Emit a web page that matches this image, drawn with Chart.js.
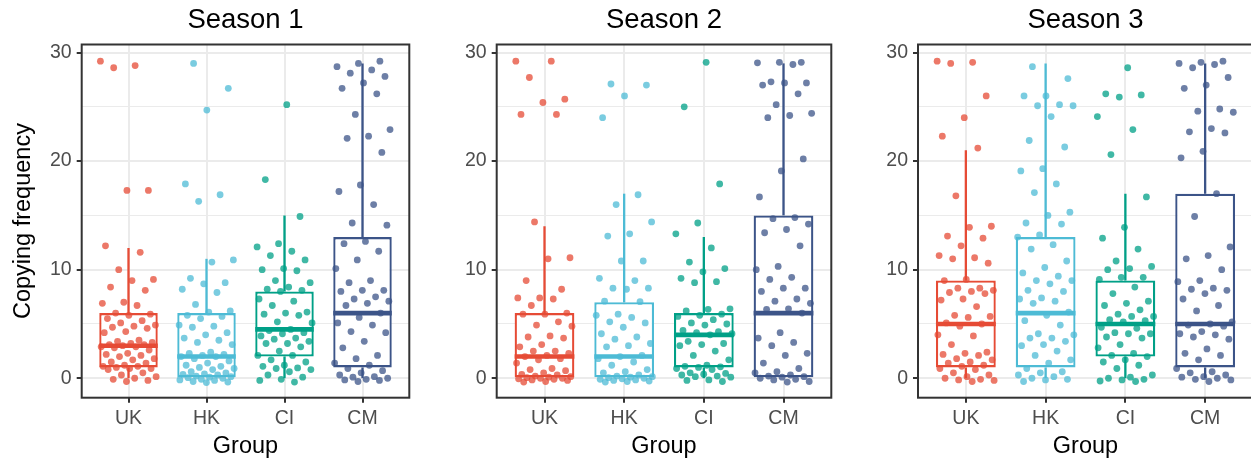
<!DOCTYPE html>
<html>
<head>
<meta charset="utf-8">
<script src="https://cdn.jsdelivr.net/npm/chart.js@4.4.1/dist/chart.umd.min.js"></script>
<style>
  body { margin: 0; background: #fff; overflow: hidden; width: 1251px; height: 461px; position: relative; }
  canvas { position: absolute; top: 0; }
</style>
</head>
<body>
<canvas id="s1"></canvas>
<canvas id="s2"></canvas>
<canvas id="s3"></canvas>
<script>
const groups = ["UK", "HK", "CI", "CM"];
const seasons = ["Season 1", "Season 2", "Season 3"];
const colors = ["#E64B35", "#4DBBD5", "#00A087", "#3C5488"];
const yTicks = [0, 5, 10, 15, 20, 25, 30];

// box stats per group: [lower whisker, q1, median, q3, upper whisker]
const box1 = [[0, 1, 3, 6, 12], [0, 0, 2, 6, 11], [0, 2, 4.5, 8, 15], [0, 1, 6, 13, 29]];
const box2 = [[0, 0, 2, 6, 14], [0, 0, 2, 7, 17], [0, 1, 4, 6, 13], [0, 0, 6, 15, 29]];
const box3 = [[0, 1, 5, 9, 21], [0, 1, 6, 13, 29], [0, 2, 5, 9, 17], [0, 1, 5, 17, 29]];

const s1UK = [29.2, 28.8, 28.6, 17.3, 17.3, 12.2, 11.6, 10.0, 9.1, 9.0, 8.4, 8.1, 7.0, 6.9, 6.7, 6.0, 5.9, 5.8, 5.5, 5.3, 5.1, 4.9, 4.8, 4.7, 4.6, 4.3, 4.2, 3.5, 3.4, 3.3, 3.2, 3.1, 3.1, 3.0, 2.9, 2.9, 2.8, 2.6, 2.3, 2.2, 2.1, 2.0, 1.8, 1.7, 1.5, 1.4, 1.2, 1.1, 1.1, 1.0, 0.9, 0.9, 0.8, 0.5, 0.3, 0.15, 0.0, -0.1, -0.2, -0.3];
const s1HK = [29.0, 26.7, 24.7, 17.9, 16.9, 16.3, 10.9, 10.7, 9.2, 8.8, 8.7, 8.2, 7.9, 6.8, 6.2, 6.1, 5.8, 5.7, 5.5, 4.9, 4.8, 4.7, 4.2, 4.0, 3.7, 3.5, 3.3, 3.1, 2.4, 2.3, 2.2, 2.1, 2.0, 2.0, 1.8, 1.6, 1.4, 1.2, 1.1, 1.0, 0.9, 0.8, 0.6, 0.5, 0.4, 0.35, 0.3, 0.2, 0.15, 0.1, 0.05, 0.0, -0.1, -0.15, -0.2, -0.3, -0.35, -0.4];
const s1CI = [25.2, 18.3, 14.9, 12.4, 12.1, 11.7, 11.3, 10.9, 10.1, 10.0, 9.9, 9.0, 8.8, 8.4, 8.2, 8.1, 8.0, 7.3, 7.1, 6.7, 6.1, 6.0, 5.9, 5.8, 5.2, 5.1, 4.5, 4.4, 4.2, 4.1, 3.9, 3.7, 3.6, 3.4, 3.2, 3.2, 2.9, 2.5, 2.1, 2.1, 1.7, 1.5, 1.2, 1.1, 0.95, 0.9, 0.8, 0.6, 0.3, 0.1, -0.1, -0.2, -0.35];
const s1CM = [29.2, 29.0, 28.7, 28.4, 28.1, 27.8, 27.2, 26.7, 26.2, 24.3, 22.9, 22.3, 22.1, 20.8, 17.8, 17.2, 16.0, 14.3, 14.1, 12.6, 12.4, 11.7, 10.9, 10.1, 9.0, 8.8, 8.1, 8.1, 8.0, 7.5, 7.3, 7.1, 6.9, 6.7, 6.0, 5.6, 5.1, 4.9, 4.3, 4.2, 3.4, 2.8, 2.1, 1.8, 1.4, 1.2, 0.9, 0.7, 0.5, 0.3, 0.15, 0.1, 0.0, -0.1, -0.15, -0.2, -0.3];

const s2UK = [29.2, 29.2, 27.7, 25.7, 25.4, 24.3, 24.3, 14.4, 11.1, 11.0, 9.0, 8.2, 7.4, 7.4, 7.3, 6.7, 6.0, 5.9, 5.9, 5.2, 4.9, 4.8, 3.9, 3.8, 3.7, 3.1, 2.9, 2.5, 2.5, 2.3, 2.1, 2.0, 1.8, 1.7, 1.4, 0.9, 0.8, 0.7, 0.5, 0.35, 0.3, 0.2, 0.15, 0.1, 0.05, 0.0, 0.0, -0.05, -0.1, -0.15, -0.2, -0.3, -0.35];
const s2HK = [27.1, 27.0, 26.0, 24.0, 16.9, 16.0, 14.4, 13.3, 13.1, 10.8, 10.8, 9.2, 9.0, 8.3, 8.3, 8.2, 7.1, 7.05, 5.9, 5.8, 5.6, 5.2, 5.1, 4.7, 4.1, 3.8, 3.6, 3.2, 3.0, 2.9, 2.1, 2.0, 1.8, 1.5, 1.2, 0.8, 0.6, 0.5, 0.3, 0.2, 0.15, 0.1, 0.05, 0.0, -0.05, -0.1, -0.15, -0.2, -0.25, -0.3, -0.35];
const s2CI = [29.1, 25.0, 17.9, 14.3, 13.3, 12.0, 10.7, 10.1, 9.8, 9.2, 8.9, 8.8, 6.4, 6.35, 6.2, 5.9, 5.8, 5.7, 5.4, 5.1, 5.0, 4.9, 4.4, 4.3, 4.2, 4.1, 4.0, 3.4, 3.2, 3.1, 3.0, 2.5, 2.1, 1.7, 1.2, 1.1, 1.05, 1.0, 0.9, 0.8, 0.5, 0.45, 0.37, 0.3, 0.2, 0.15, 0.1, -0.15, -0.2, -0.3];
const s2CM = [29.1, 29.1, 29.05, 28.9, 27.3, 27.2, 27.2, 27.0, 26.2, 25.2, 24.4, 24.2, 24.0, 20.2, 19.1, 16.7, 14.8, 14.7, 14.2, 13.7, 13.4, 12.2, 10.3, 10.0, 9.3, 9.1, 8.3, 8.3, 8.0, 7.3, 7.1, 6.9, 6.4, 6.35, 6.0, 4.2, 3.7, 3.3, 3.0, 2.3, 2.1, 1.4, 0.9, 0.6, 0.5, 0.3, 0.2, 0.15, 0.1, 0.0, -0.1, -0.15, -0.3, -0.35];

const s3UK = [29.2, 29.1, 29.0, 26.0, 24.0, 22.3, 21.2, 16.8, 14.0, 13.9, 13.1, 12.9, 12.2, 11.3, 11.1, 11.0, 10.6, 9.1, 9.0, 8.3, 8.3, 8.1, 8.0, 7.9, 7.8, 7.3, 7.2, 6.6, 5.8, 5.7, 5.6, 5.1, 5.0, 4.8, 4.0, 3.9, 3.1, 2.4, 2.3, 2.2, 2.1, 1.8, 1.7, 1.5, 1.4, 1.2, 1.1, 0.9, 0.8, 0.5, 0.3, 0.15, 0.0, -0.1, -0.15, -0.2, -0.3];
const s3HK = [28.7, 27.6, 26.0, 26.0, 25.2, 25.1, 25.1, 24.1, 21.9, 21.3, 19.3, 19.1, 17.9, 17.1, 15.3, 15.0, 14.3, 14.2, 13.2, 13.0, 12.3, 11.9, 10.8, 10.2, 9.7, 9.4, 9.0, 9.0, 8.7, 8.1, 8.0, 7.4, 7.3, 7.1, 6.9, 6.1, 5.8, 5.3, 4.9, 4.1, 4.0, 3.7, 3.7, 3.4, 3.1, 3.0, 2.5, 2.1, 1.7, 1.4, 0.9, 0.6, 0.5, 0.3, 0.15, 0.0, -0.1, -0.15, -0.3];
const s3CI = [28.6, 26.2, 26.1, 25.9, 24.1, 22.9, 20.6, 16.7, 13.9, 12.9, 11.9, 10.8, 10.3, 10.1, 10.0, 9.3, 9.3, 9.1, 8.4, 7.8, 7.1, 6.9, 6.7, 6.3, 5.9, 5.7, 5.7, 5.4, 5.3, 5.2, 4.7, 4.6, 4.2, 4.1, 4.1, 3.8, 3.7, 3.1, 2.8, 2.3, 2.1, 2.0, 1.7, 1.5, 1.2, 0.9, 0.3, 0.1, 0.0, -0.1, -0.15, -0.25, -0.3];
const s3CM = [29.2, 29.1, 29.0, 28.9, 28.6, 27.7, 27.0, 26.7, 24.8, 24.6, 24.5, 23.0, 22.7, 22.6, 20.9, 20.3, 17.0, 14.9, 12.1, 11.3, 11.0, 10.0, 9.0, 8.9, 8.3, 8.2, 8.1, 7.8, 7.3, 6.7, 6.2, 5.2, 5.0, 4.9, 4.8, 4.3, 4.1, 4.0, 3.8, 3.6, 2.7, 2.3, 2.1, 1.7, 0.9, 0.6, 0.5, 0.3, 0.15, 0.1, 0.0, -0.1, -0.15, -0.3];

const FONT = '"Liberation Sans", Arial, Helvetica, sans-serif';

function alpha(hex, a) {
  const n = parseInt(hex.slice(1), 16);
  return `rgba(${n >> 16},${(n >> 8) & 255},${n & 255},${a})`;
}

// horizontal jitter, fixed per point index so the picture is stable
function jitter(i, g) {
  return (((i * 0.6180339887 + g * 0.27) % 1) - 0.5) * 0.72;
}

// whiskers and median lines, plus the panel border
const boxLines = {
  id: "boxLines",
  afterDatasetDraw(chart, args, opts) {
    if (args.meta.type !== "bar") return;
    const { ctx, scales: { x, y } } = chart;
    opts.stats.forEach((s, g) => {
      const cx = x.getPixelForValue(g + 1);
      const half = x.getPixelForValue(g + 1.375) - cx;
      ctx.save();
      ctx.strokeStyle = colors[g];
      ctx.lineCap = "butt";
      ctx.lineWidth = 2.3;
      ctx.beginPath();
      if (s[4] > s[3]) {
        ctx.moveTo(cx, y.getPixelForValue(s[3]));
        ctx.lineTo(cx, y.getPixelForValue(s[4]));
      }
      if (s[0] < s[1]) {
        ctx.moveTo(cx, y.getPixelForValue(s[1]));
        ctx.lineTo(cx, y.getPixelForValue(s[0]));
      }
      ctx.stroke();
      ctx.lineWidth = 4.6;
      ctx.beginPath();
      const my = y.getPixelForValue(s[2]);
      ctx.moveTo(cx - half, my);
      ctx.lineTo(cx + half, my);
      ctx.stroke();
      ctx.restore();
    });
  },
  afterDraw(chart) {
    const { ctx, chartArea: a } = chart;
    ctx.save();
    ctx.strokeStyle = "#333333";
    ctx.lineWidth = 2;
    ctx.strokeRect(a.left, a.top, a.right - a.left, a.bottom - a.top);
    ctx.restore();
  }
};

function makePanel(id, title, stats, points, left, width, axisW, showYTitle) {
  const canvas = document.getElementById(id);
  canvas.width = width;
  canvas.height = 461;
  canvas.style.left = left + "px";

  const datasets = [{
    type: "bar",
    data: stats.map((s, g) => ({ x: g + 1, y: [s[1], s[3]] })),
    backgroundColor: "#ffffff",
    borderColor: colors,
    borderWidth: 2.3,
    borderSkipped: false,
    barPercentage: 0.75,
    categoryPercentage: 1,
    grouped: false,
    order: 2
  }];
  points.forEach((vals, g) => {
    datasets.push({
      type: "scatter",
      data: vals.map((v, i) => ({ x: g + 1 + jitter(i, g), y: v })),
      backgroundColor: alpha(colors[g], 0.75),
      borderWidth: 0,
      pointRadius: 3.4,
      order: 1
    });
  });

  new Chart(canvas, {
    data: { datasets },
    plugins: [boxLines],
    options: {
      responsive: false,
      animation: false,
      layout: { padding: 0 },
      plugins: {
        legend: { display: false },
        tooltip: { enabled: false },
        title: {
          display: true,
          text: title,
          color: "#000",
          font: { family: FONT, size: 27.5, weight: "normal" },
          padding: { top: 4, bottom: 7.5 }
        },
        boxLines: { stats }
      },
      scales: {
        x: {
          type: "linear",
          min: 0.4,
          max: 4.6,
          offset: false,
          afterBuildTicks: (s) => { s.ticks = groups.map((_, i) => ({ value: i + 1 })); },
          afterFit: (s) => { s.height = 63.3; },
          ticks: {
            callback: (v) => groups[v - 1],
            color: "#4D4D4D",
            font: { family: FONT, size: 19.5 },
            padding: 4,
            autoSkip: false,
            maxRotation: 0
          },
          grid: { offset: false, color: "#EBEBEB", lineWidth: 2, tickColor: "#333333", tickLength: 5, tickWidth: 2 },
          border: { display: false },
          title: {
            display: true,
            text: "Group",
            color: "#000",
            font: { family: FONT, size: 23.5 },
            padding: { top: 0, bottom: 0 }
          }
        },
        y: {
          type: "linear",
          min: -1.79,
          max: 30.74,
          afterBuildTicks: (s) => { s.ticks = yTicks.map((v) => ({ value: v })); },
          afterFit: (s) => { s.width = axisW; },
          ticks: {
            callback: (v) => (v % 10 === 0 ? String(v) : ""),
            color: "#4D4D4D",
            font: { family: FONT, size: 19.5 },
            padding: 5
          },
          grid: {
            color: "#EBEBEB",
            lineWidth: (c) => (c.tick && c.tick.value % 10 === 0 ? 2 : 1),
            tickColor: (c) => (c.tick && c.tick.value % 10 === 0 ? "#333333" : "rgba(0,0,0,0)"),
            tickLength: 5,
            tickWidth: 2
          },
          border: { display: false },
          title: {
            display: showYTitle,
            text: "Copying frequency",
            color: "#000",
            font: { family: FONT, size: 23.5 },
            padding: { top: 9.2, bottom: 0 }
          }
        },
        // empty right-hand axis: keeps the panel centred under its title
        yRight: {
          axis: "y",
          type: "linear",
          position: "right",
          min: 0,
          max: 1,
          afterFit: (s) => { s.width = axisW; },
          ticks: { display: false },
          grid: { display: false, drawTicks: false },
          border: { display: false }
        }
      }
    }
  });
}

makePanel("s1", seasons[0], box1, [s1UK, s1HK, s1CI, s1CM], 0, 491.6, 81.7, true);
makePanel("s2", seasons[1], box2, [s2UK, s2HK, s2CI, s2CM], 440, 448.4, 56.7, false);
makePanel("s3", seasons[2], box3, [s3UK, s3HK, s3CI, s3CM], 860, 451, 58, false);
</script>
</body>
</html>
